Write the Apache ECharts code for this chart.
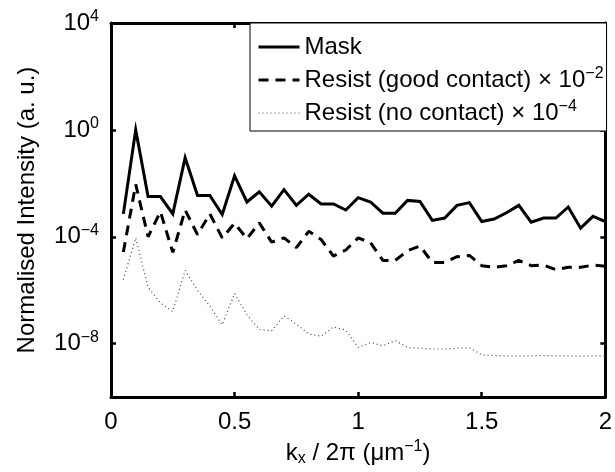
<!DOCTYPE html>
<html>
<head>
<meta charset="utf-8">
<script src="https://cdn.jsdelivr.net/npm/echarts@6/dist/echarts.min.js"></script>
<style>
html, body { margin: 0; padding: 0; background: #fff; }
#main { width: 615px; height: 472px; }
</style>
</head>
<body>
<div id="main"></div>
<script>
// spatial frequency kx / 2pi (um^-1)
var kx = [0.05, 0.1, 0.15, 0.2, 0.25, 0.3, 0.35, 0.4, 0.45, 0.5,
          0.55, 0.6, 0.65, 0.7, 0.75, 0.8, 0.85, 0.9, 0.95, 1.0,
          1.05, 1.1, 1.15, 1.2, 1.25, 1.3, 1.35, 1.4, 1.45, 1.5,
          1.55, 1.6, 1.65, 1.7, 1.75, 1.8, 1.85, 1.9, 1.95, 2.0];
// normalised intensity (a. u.)
var mask = [7.2e-4, 1.0, 3.2e-3, 3.2e-3, 7.2e-4, 9.1e-2, 3.5e-3, 3.5e-3, 6.8e-4, 1.9e-2,
            2.0e-3, 4.8e-3, 1.4e-3, 5.8e-3, 1.5e-3, 3.9e-3, 1.7e-3, 1.7e-3, 1.0e-3, 2.9e-3,
            2.0e-3, 7.6e-4, 7.6e-4, 2.3e-3, 2.1e-3, 4.1e-4, 5.0e-4, 1.5e-3, 1.9e-3, 3.7e-4,
            4.6e-4, 7.9e-4, 1.5e-3, 3.5e-4, 5.0e-4, 5.0e-4, 1.3e-3, 2.1e-4, 5.8e-4, 3.7e-4];
var goodContact = [2.7e-5, 9.1e-3, 1.0e-4, 8.7e-4, 2.6e-5, 1.0e-3, 1.2e-4, 7.2e-4, 9.1e-5, 3.2e-4,
                   8.5e-5, 3.3e-4, 6.3e-5, 9.1e-5, 3.9e-5, 1.6e-4, 7.9e-5, 1.9e-5, 3.2e-5, 9.1e-5,
                   6.0e-5, 1.3e-5, 1.3e-5, 3.0e-5, 4.5e-5, 1.1e-5, 1.1e-5, 1.8e-5, 2.0e-5, 8.3e-6,
                   7.2e-6, 8.3e-6, 1.3e-5, 8.3e-6, 8.7e-6, 5.9e-6, 7.2e-6, 7.2e-6, 8.7e-6, 7.9e-6];
var noContact = [2.5e-6, 9.1e-5, 1.3e-6, 3.3e-7, 1.6e-7, 5.5e-6, 1.0e-6, 2.5e-7, 5.1e-8, 7.6e-7,
                 1.2e-7, 3.4e-8, 3.0e-8, 1.1e-7, 5.4e-8, 2.3e-8, 1.9e-8, 4.2e-8, 3.2e-8, 7.2e-9,
                 1.1e-8, 8.3e-9, 1.3e-8, 7.2e-9, 6.8e-9, 6.3e-9, 6.3e-9, 6.8e-9, 7.1e-9, 3.8e-9,
                 3.6e-9, 3.5e-9, 3.4e-9, 3.5e-9, 3.6e-9, 3.5e-9, 3.5e-9, 3.4e-9, 3.5e-9, 3.5e-9];
// axes: y is drawn in decades (log10)
var yTickExps = [-8, -4, 0, 4];
var names = ['Mask', 'Resist (good contact) x 10^-2', 'Resist (no contact) x 10^-4'];

var font = 'Liberation Sans, Arial, Helvetica, sans-serif';
var fs = 24;

function toLog(arr) {
    return kx.map(function (x, i) { return [x, Math.log10(arr[i])]; });
}
function supText(n) {
    return n < 0 ? '\u2212' + (-n) : '' + n;
}

// rich text pieces: normal, superscript, subscript
var richText = {
    t: { fontSize: fs, lineHeight: 28, fontFamily: font, color: '#000' },
    s: { fontSize: 16, lineHeight: 14, verticalAlign: 'top', fontFamily: font, color: '#000' },
    d: { fontSize: 16, lineHeight: 12, verticalAlign: 'bottom', fontFamily: font, color: '#000' }
};

var myChart = echarts.init(document.getElementById('main'));

var frameLine = { onZero: false, lineStyle: { color: '#000', width: 3 } };
var tickStyle = { inside: true, length: 5, lineStyle: { width: 2.5, color: '#000' } };

var option = {
    animation: false,
    grid: { left: 111, right: 8, top: 23, bottom: 68 },
    legend: {
        orient: 'vertical',
        left: 250,
        top: 23,
        padding: [12, 3, 6, 7],
        itemGap: 7,
        itemWidth: 41,
        itemHeight: 20,
        backgroundColor: '#fff',
        borderColor: '#000',
        borderWidth: 1,
        data: names,
        itemStyle: { opacity: 0 },
        lineStyle: { width: 'inherit' },
        formatter: function (name) {
            if (name === names[1]) return '{t|Resist (good contact) \u00d7 10}{s|\u22122}';
            if (name === names[2]) return '{t|Resist (no contact) \u00d7 10}{s|\u22124}';
            return '{t|Mask}';
        },
        textStyle: { color: '#000', fontFamily: font, rich: richText }
    },
    xAxis: [{
        type: 'value',
        min: 0, max: 2, interval: 0.5,
        axisLine: frameLine,
        axisTick: tickStyle,
        splitLine: { show: false },
        axisLabel: {
            margin: 13, color: '#000', fontSize: fs, fontFamily: font,
            formatter: function (v) { return '' + v; }
        },
        name: '{t|k}{d|x}{t| / 2\u03c0 (\u03bcm}{s|\u22121}{t|)}',
        nameLocation: 'middle',
        nameGap: 36,
        nameTextStyle: { color: '#000', rich: richText }
    }, {
        type: 'value',
        position: 'top',
        min: 0, max: 2, interval: 0.5,
        axisLine: frameLine,
        axisTick: tickStyle,
        axisLabel: { show: false },
        splitLine: { show: false }
    }],
    yAxis: [{
        type: 'value',
        min: -10, max: 4,
        axisLine: frameLine,
        axisTick: Object.assign({ customValues: yTickExps }, tickStyle),
        splitLine: { show: false },
        axisLabel: {
            customValues: yTickExps,
            margin: 12,
            formatter: function (v) { return '{t|10}{s|' + supText(v) + '}'; },
            rich: richText
        },
        name: 'Normalised Intensity (a. u.)',
        nameLocation: 'middle',
        nameGap: 72,
        nameTextStyle: { color: '#000', fontSize: fs, fontFamily: font }
    }, {
        type: 'value',
        position: 'right',
        min: -10, max: 4,
        axisLine: frameLine,
        axisTick: Object.assign({ customValues: yTickExps }, tickStyle),
        axisLabel: { show: false },
        splitLine: { show: false }
    }],
    series: [{
        name: names[0],
        type: 'line',
        data: toLog(mask),
        symbol: 'none',
        lineStyle: { color: '#000', width: 3, join: 'miter', miterLimit: 10 },
        itemStyle: { color: '#000' },
        z: 3
    }, {
        name: names[1],
        type: 'line',
        data: toLog(goodContact),
        symbol: 'none',
        lineStyle: { color: '#000', width: 3, type: [10, 7] },
        itemStyle: { color: '#000' },
        z: 2
    }, {
        name: names[2],
        type: 'line',
        data: toLog(noContact),
        symbol: 'none',
        lineStyle: { color: '#444', width: 1.2, type: [1, 3] },
        itemStyle: { color: '#444' },
        z: 1
    }]
};

myChart.setOption(option);
</script>
</body>
</html>
